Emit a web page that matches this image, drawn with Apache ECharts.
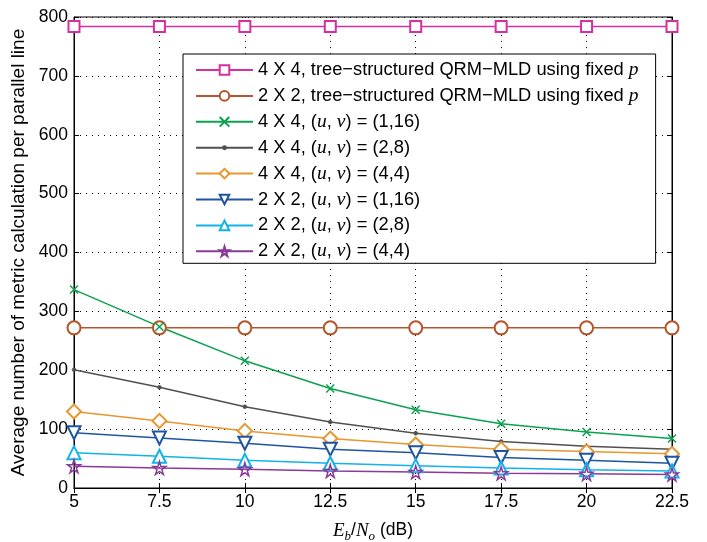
<!DOCTYPE html>
<html>
<head>
<meta charset="utf-8">
<script src="https://cdn.jsdelivr.net/npm/echarts@6/dist/echarts.min.js"></script>
<style>
  html, body { margin: 0; padding: 0; background: #fff; }
  #main { width: 707px; height: 542px; }
</style>
</head>
<body>
<div id="main"></div>
<script>
// Eb/No in dB
var snr = [5, 7.5, 10, 12.5, 15, 17.5, 20, 22.5];

var qrm4x4Fixed = [784, 784, 784, 784, 784, 784, 784, 784];
var qrm2x2Fixed = [272, 272, 272, 272, 272, 272, 272, 272];
var mimo4x4_1_16 = [337, 274, 216, 169, 133, 109, 95, 84];
var mimo4x4_2_8 = [201, 171, 138, 112, 93, 79, 71, 66];
var mimo4x4_4_4 = [130, 114, 97, 84, 74, 66, 62, 58];
var mimo2x2_1_16 = [94, 85, 76, 66, 60, 52, 47, 42];
var mimo2x2_2_8 = [60, 54, 47, 42, 38, 34, 31, 29];
var mimo2x2_4_4 = [37, 34, 32, 29, 27, 25, 24, 23];

var legendNames = [
  '4 X 4, tree\u2212structured QRM\u2212MLD using fixed {i|p}',
  '2 X 2, tree\u2212structured QRM\u2212MLD using fixed {i|p}',
  '4 X 4, ({i|u}, {i|v}) = (1,16)',
  '4 X 4, ({i|u}, {i|v}) = (2,8)',
  '4 X 4, ({i|u}, {i|v}) = (4,4)',
  '2 X 2, ({i|u}, {i|v}) = (1,16)',
  '2 X 2, ({i|u}, {i|v}) = (2,8)',
  '2 X 2, ({i|u}, {i|v}) = (4,4)'
];

var starPath = 'path://M50,0L61,35L98,35L68,57L79,91L50,70L21,91L32,57L2,35L39,35Z';
var crossPath = 'path://M0,0L10,10M10,0L0,10';
// small dot inside an empty 10x10 box, so it stays small in the legend too
var dotPath = 'path://M0,0L0,0M10,10L10,10M5,3.5A1.5,1.5,0,1,1,5,6.5A1.5,1.5,0,1,1,5,3.5Z';

function pairs(ys) {
  return snr.map(function (x, i) { return [x, ys[i]]; });
}

function mkSeries(name, data, color, symbol, size, extra) {
  var s = {
    name: name,
    type: 'line',
    data: pairs(data),
    symbol: symbol,
    symbolSize: size,
    showAllSymbol: true,
    lineStyle: { color: color, width: 1.5 },
    itemStyle: { color: color, borderColor: color, borderWidth: 1.5 },
    emphasis: { disabled: true },
    animation: false
  };
  if (extra) Object.assign(s, extra);
  return s;
}

var chart = echarts.init(document.getElementById('main'));

var fontFam = '"Liberation Sans", Arial, Helvetica, sans-serif';
var serif = '"Liberation Serif", "Times New Roman", serif';

var option = {
  backgroundColor: '#fff',
  textStyle: { fontFamily: fontFam },
  grid: {
    left: 74, right: 35, top: 17, bottom: 54,
    outerBoundsMode: 'none',
    containLabel: false,
    show: true, borderColor: '#000', borderWidth: 1
  },
  legend: {
    orient: 'vertical',
    left: 183, top: 54,
    backgroundColor: '#fff',
    borderColor: '#000',
    borderWidth: 1,
    padding: [6, 17, 2, 12],
    itemWidth: 57,
    itemHeight: 12,
    itemGap: 5.9,
    data: legendNames,
    textStyle: {
      fontSize: 18.3,
      color: '#000',
      fontFamily: fontFam,
      rich: {
        i: { fontSize: 19.5, fontStyle: 'italic', fontFamily: serif, color: '#000' }
      }
    }
  },
  xAxis: [{
    type: 'value',
    min: 5, max: 22.5, interval: 2.5,
    name: '{i|E}{s|b}{n|/}{i|N}{s|o}{n| (dB)}',
    nameLocation: 'middle',
    nameGap: 30,
    nameTextStyle: {
      rich: {
        i: { fontSize: 19, fontStyle: 'italic', fontFamily: serif, color: '#000' },
        s: { fontSize: 13, fontStyle: 'italic', fontFamily: serif, color: '#000', padding: [12, 0, 0, 0] },
        n: { fontSize: 17.5, color: '#000', fontFamily: fontFam }
      }
    },
    axisLine: { lineStyle: { color: '#000', width: 1 } },
    axisTick: { inside: true, length: 5, lineStyle: { color: '#000' } },
    axisLabel: { fontSize: 17.5, color: '#000', margin: 5 },
    splitLine: { show: true, lineStyle: { color: '#000', type: [1, 5], width: 1 } }
  }, {
    type: 'value',
    position: 'top',
    min: 5, max: 22.5, interval: 2.5,
    axisLine: { show: true, lineStyle: { color: '#000' } },
    axisTick: { inside: true, length: 5, lineStyle: { color: '#000' } },
    axisLabel: { show: false },
    splitLine: { show: false }
  }],
  yAxis: [{
    type: 'value',
    min: 0, max: 800, interval: 100,
    name: 'Average number of metric calculation per parallel line',
    nameLocation: 'middle',
    nameGap: 46,
    nameTextStyle: { fontSize: 19, color: '#000' },
    axisLine: { show: true, lineStyle: { color: '#000', width: 1 } },
    axisTick: { inside: true, length: 5, lineStyle: { color: '#000' } },
    axisLabel: { fontSize: 17.5, color: '#000', margin: 6 },
    splitLine: { show: true, lineStyle: { color: '#000', type: [1, 5], width: 1 } }
  }, {
    type: 'value',
    position: 'right',
    min: 0, max: 800, interval: 100,
    axisLine: { show: true, lineStyle: { color: '#000' } },
    axisTick: { inside: true, length: 5, lineStyle: { color: '#000' } },
    axisLabel: { show: false },
    splitLine: { show: false }
  }],
  series: [
    mkSeries(legendNames[0], qrm4x4Fixed, '#d6309f', 'emptyRect', 11),
    mkSeries(legendNames[1], qrm2x2Fixed, '#b4562c', 'emptyCircle', 13),
    mkSeries(legendNames[2], mimo4x4_1_16, '#0aa14f', crossPath, 8),
    mkSeries(legendNames[3], mimo4x4_2_8, '#505050', dotPath, 13, {
      itemStyle: { color: '#505050', borderColor: '#505050', borderWidth: 0.5 }
    }),
    mkSeries(legendNames[4], mimo4x4_4_4, '#e8962f', 'emptyDiamond', 14),
    mkSeries(legendNames[5], mimo2x2_1_16, '#1f55a0', 'emptyTriangle', 13, { symbolRotate: 180 }),
    mkSeries(legendNames[6], mimo2x2_2_8, '#12b2ec', 'emptyTriangle', 13),
    mkSeries(legendNames[7], mimo2x2_4_4, '#8a3a98', starPath, 13, {
      itemStyle: { color: 'rgba(0,0,0,0)', borderColor: '#8a3a98', borderWidth: 1.5 }
    })
  ]
};

chart.setOption(option);
</script>
</body>
</html>
